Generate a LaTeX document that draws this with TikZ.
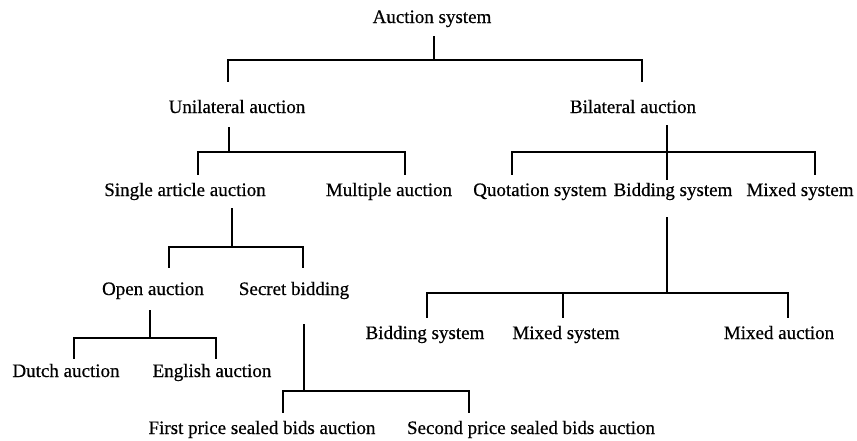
\documentclass[tikz,border=0pt]{standalone}
\usepackage{fontspec}
\setmainfont{Liberation Serif}
\newfontfamily\lblfont[FakeBold=0.5]{Liberation Serif}
\begin{document}
\begin{tikzpicture}[x=1pt,y=-1pt,
  lbl/.style={anchor=base, inner sep=0pt, text height=13pt, text depth=5pt, font=\lblfont\fontsize{19}{22}\selectfont},
  conn/.style={line width=2.6pt, line join=miter}]
\fill[white] (0,0) rectangle (857,440);
\useasboundingbox (0,0) rectangle (857,440);
% nodes
\node[lbl] (root)   at (432,23)  {Auction system};
\node[lbl] (uni)    at (237,113) {Unilateral auction};
\node[lbl] (bi)     at (633,113) {Bilateral auction};
\node[lbl] (single) at (185,196) {Single article auction};
\node[lbl] (multi)  at (389,196) {Multiple auction};
\node[lbl] (quot)   at (540,196) {Quotation system};
\node[lbl] (bidA)   at (673,196) {Bidding system};
\node[lbl] (mixA)   at (800,196) {Mixed system};
\node[lbl] (open)   at (153,295) {Open auction};
\node[lbl] (secret) at (294,295) {Secret bidding};
\node[lbl] (dutch)  at (66,377)  {Dutch auction};
\node[lbl] (english) at (212,377) {English auction};
\node[lbl] (bidB)   at (425,339) {Bidding system};
\node[lbl] (mixB)   at (566,339) {Mixed system};
\node[lbl] (mixauc) at (779,339) {Mixed auction};
\node[lbl] (first)  at (262,434) {First price sealed bids auction};
\node[lbl] (second) at (531,434) {Second price sealed bids auction};
% junctions
\coordinate (jR) at (434,60);
\coordinate (aL) at (228,60);
\coordinate (aR) at (642,60);
\coordinate (eJ) at (229,152);
\coordinate (eL) at (198,152);
\coordinate (eR) at (405,152);
\coordinate (bJ) at (667,152);
\coordinate (bL) at (512,152);
\coordinate (bR) at (815,152);
\coordinate (cJ) at (667,293);
\coordinate (cL) at (427,293);
\coordinate (cM) at (563,293);
\coordinate (cR) at (788,293);
\coordinate (dJ) at (232,247);
\coordinate (dL) at (169,247);
\coordinate (dR) at (303,247);
\coordinate (fJ) at (150,338);
\coordinate (fL) at (74,338);
\coordinate (fR) at (216,338);
\coordinate (gJ) at (304,391);
\coordinate (gL) at (283,391);
\coordinate (gR) at (469,391);
% root
\draw[conn, shorten <=8pt] (root.south -| jR) -- (jR);
\draw[conn, shorten <=18pt, shorten >=18pt] (uni.north -| aL) -- (aL) -- (aR) -- (bi.north -| aR);
% unilateral
\draw[conn, shorten <=9pt] (uni.south -| eJ) -- (eJ);
\draw[conn, shorten <=8pt, shorten >=8pt] (single.north -| eL) -- (eL) -- (eR) -- (multi.north -| eR);
% bilateral
\draw[conn, shorten <=7pt, shorten >=3pt] (bi.south -| bJ) -- (bidA.north -| bJ);
\draw[conn, shorten <=8pt, shorten >=8pt] (quot.north -| bL) -- (bL) -- (bR) -- (mixA.north -| bR);
% bidding system
\draw[conn, shorten <=16pt] (bidA.south -| cJ) -- (cJ);
\draw[conn, shorten <=8pt, shorten >=8pt] (bidB.north -| cL) -- (cL) -- (cR) -- (mixauc.north -| cR);
\draw[conn, shorten >=8pt] (cM) -- (mixB.north -| cM);
% single article
\draw[conn, shorten <=7pt] (single.south -| dJ) -- (dJ);
\draw[conn, shorten <=14pt, shorten >=14pt] (open.north -| dL) -- (dL) -- (dR) -- (secret.north -| dR);
% open auction
\draw[conn, shorten <=10pt] (open.south -| fJ) -- (fJ);
\draw[conn, shorten <=5pt, shorten >=5pt] (dutch.north -| fL) -- (fL) -- (fR) -- (english.north -| fR);
% secret bidding
\draw[conn, shorten <=24pt] (secret.south -| gJ) -- (gJ);
\draw[conn, shorten <=8pt, shorten >=8pt] (first.north -| gL) -- (gL) -- (gR) -- (second.north -| gR);
\end{tikzpicture}
\end{document}
